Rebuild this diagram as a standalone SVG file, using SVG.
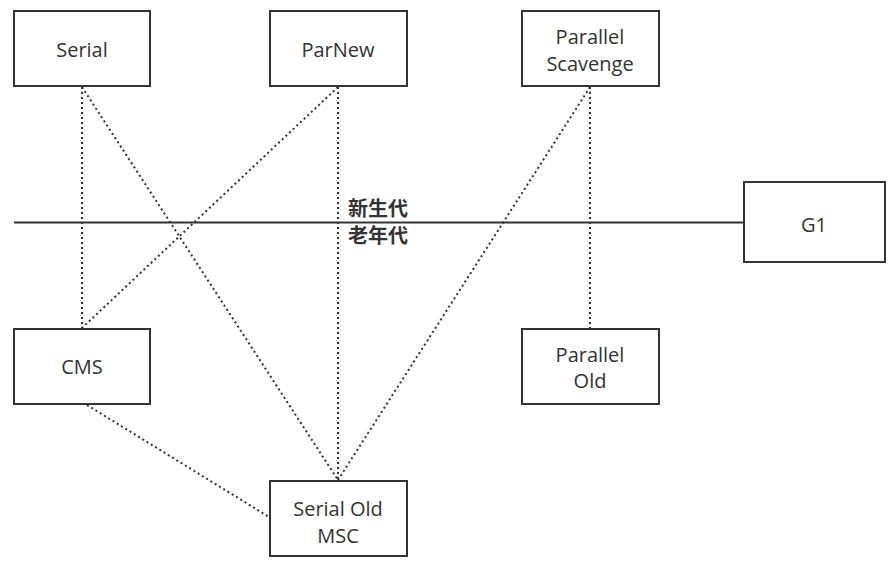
<svg xmlns="http://www.w3.org/2000/svg" width="892" height="563" viewBox="0 0 892 563">
<style>
.box{fill:#fff;stroke:#333;stroke-width:2}
.t{font-family:"Open Sans","Noto Sans",sans-serif;font-size:20px;fill:#333;text-anchor:middle}
.dot{stroke:#333;stroke-width:2;stroke-dasharray:2 3;fill:none}
.lbl{font-family:"Noto Sans CJK SC",sans-serif;font-size:20px;font-weight:bold;fill:#333}
</style>
<rect width="892" height="563" fill="#fff"/>
<g id="connectors">
<line class="dot" x1="82" y1="87" x2="82" y2="328"/>
<line class="dot" x1="82" y1="87" x2="338" y2="480"/>
<line class="dot" x1="338" y1="87" x2="82" y2="328"/>
<line class="dot" x1="338" y1="87" x2="338" y2="480"/>
<line class="dot" x1="590" y1="87" x2="338" y2="480"/>
<line class="dot" x1="590" y1="87" x2="590" y2="328"/>
<line class="dot" x1="87" y1="405" x2="269" y2="517"/>
<line x1="14" y1="222.5" x2="744" y2="222.5" stroke="#333" stroke-width="2"/>
</g>
<g id="divider-label">
<text class="lbl" x="348" y="216">新生代</text>
<text class="lbl" x="348" y="243">老年代</text>
</g>
<g id="serial"><rect class="box" x="14" y="11" width="136" height="75"/><text class="t" x="82" y="57">Serial</text></g>
<g id="parnew"><rect class="box" x="270" y="11" width="137" height="75"/><text class="t" x="338" y="57">ParNew</text></g>
<g id="parallel-scavenge"><rect class="box" x="522" y="11" width="137" height="75"/><text class="t" x="590" y="44">Parallel</text><text class="t" x="590" y="71">Scavenge</text></g>
<g id="g1"><rect class="box" x="744" y="182" width="141" height="80"/><text class="t" x="814" y="232">G1</text></g>
<g id="cms"><rect class="box" x="14" y="329" width="136" height="75"/><text class="t" x="82" y="374">CMS</text></g>
<g id="parallel-old"><rect class="box" x="522" y="329" width="137" height="75"/><text class="t" x="590" y="362">Parallel</text><text class="t" x="590" y="388">Old</text></g>
<g id="serial-old"><rect class="box" x="270" y="481" width="137" height="75"/><text class="t" x="338" y="516">Serial Old</text><text class="t" x="338" y="543">MSC</text></g>
</svg>
